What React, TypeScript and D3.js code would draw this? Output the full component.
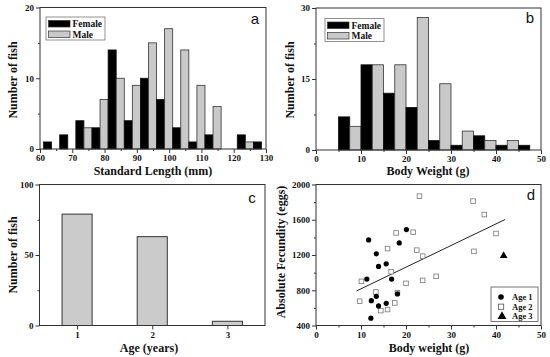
import React, { useEffect, useRef } from 'react';
import * as d3 from 'd3';

// (a) standard length, bin start in mm
const lengthBins = [60, 65, 70, 75, 80, 85, 90, 95, 100, 105, 110, 115, 120, 125];
const lengthFemale = [1, 2, 4, 3, 14, 4, 10, 7, 3, 1, 2, 0, 2, 1];
const lengthMale = [0, 0, 3, 7, 10, 9, 15, 17, 14, 9, 6, 0, 1, 0];

// (b) body weight, bin start in g
const weightBins = [5, 10, 15, 20, 25, 30, 35, 40, 45];
const weightFemale = [7, 18, 12, 9, 2, 1, 3, 1, 1];
const weightMale = [5, 18, 18, 28, 14, 4, 2, 2, 0];

// (c) age classes
const ageClasses = [1, 2, 3];
const ageCounts = [79, 63, 3];

// (d) body weight (g) vs absolute fecundity (eggs)
const age1Fish: [number, number][] = [
  [11.7, 1371], [20.1, 1488], [18.5, 1337], [13.4, 1213], [13.9, 1070], [15.6, 1100], [11.3, 927],
  [16.8, 927], [13.4, 731], [12.3, 682], [13.9, 622], [15.6, 652], [18.1, 758], [12.2, 483],
];
const age2Fish: [number, number][] = [
  [23.0, 1868], [17.8, 1450], [21.6, 1458], [15.9, 1273], [22.4, 1255], [23.7, 1187], [16.7, 1010],
  [10.1, 901], [20.0, 878], [23.7, 912], [13.3, 780], [18.1, 773], [9.7, 675], [17.5, 656],
  [14.4, 569], [15.9, 581], [34.9, 1812], [37.4, 1659], [40.0, 1444], [35.1, 1241], [26.7, 958],
];
const age3Fish: [number, number][] = [[41.7, 1191]];
const fitLine: [number, number][] = [[9, 792], [42, 1602]];

const serif = '"Liberation Serif", "Times New Roman", serif';
const sans = '"Liberation Sans", Arial, sans-serif';
const ink = '#333';
const maleFill = '#c9c9c9';

type Sel = d3.Selection<SVGGElement, unknown, null, undefined>;

function drawAxes(
  g: Sel,
  x: d3.ScaleLinear<number, number>,
  y: d3.ScaleLinear<number, number>,
  xMajor: number[], xMinor: number[], yMajor: number[], yMinor: number[]
) {
  const [x0, x1] = x.range();
  const [y1, y0] = y.range();
  const fmt = (d: d3.NumberValue) => String(+d);

  g.append('rect')
    .attr('x', x0).attr('y', y0)
    .attr('width', x1 - x0).attr('height', y1 - y0)
    .attr('fill', 'none').attr('stroke', ink).attr('stroke-width', 1);

  const bottom = g.append('g').attr('transform', `translate(0,${y1})`);
  bottom.append('g').call(d3.axisBottom(x).tickValues(xMinor).tickSize(2).tickFormat(() => ''));
  bottom.append('g').call(d3.axisBottom(x).tickValues(xMajor).tickSize(4).tickSizeOuter(0).tickPadding(2).tickFormat(fmt));

  const left = g.append('g').attr('transform', `translate(${x0},0)`);
  left.append('g').call(d3.axisLeft(y).tickValues(yMinor).tickSize(2).tickFormat(() => ''));
  left.append('g').call(d3.axisLeft(y).tickValues(yMajor).tickSize(4).tickSizeOuter(0).tickPadding(2).tickFormat(fmt));

  g.selectAll('.domain').remove();
  g.selectAll('.tick line').attr('stroke', ink);
  g.selectAll('.tick text')
    .attr('font-family', serif).attr('font-weight', 'bold').attr('font-size', 9).attr('fill', '#111');
}

function title(g: Sel, x: number, y: number, text: string, rotate = false) {
  const t = g.append('text')
    .attr('text-anchor', 'middle')
    .attr('font-family', serif).attr('font-weight', 'bold').attr('font-size', 12)
    .attr('fill', '#111')
    .text(text);
  if (rotate) t.attr('transform', `translate(${x},${y}) rotate(-90)`);
  else t.attr('x', x).attr('y', y);
}

function letter(g: Sel, x: number, y: number, text: string) {
  g.append('text').attr('x', x).attr('y', y)
    .attr('text-anchor', 'middle')
    .attr('font-family', sans).attr('font-size', 15).attr('fill', '#111')
    .text(text);
}

function sexLegend(g: Sel, x: number, y: number) {
  g.append('rect').attr('x', x).attr('y', y).attr('width', 59).attr('height', 23)
    .attr('fill', '#fff').attr('stroke', '#777').attr('stroke-width', 0.8);
  const rows = [{ label: 'Female', fill: '#000' }, { label: 'Male', fill: maleFill }];
  rows.forEach((r, i) => {
    g.append('rect').attr('x', x + 2.5).attr('y', y + 3.5 + i * 10.5).attr('width', 21.5).attr('height', 6.5)
      .attr('fill', r.fill).attr('stroke', ink).attr('stroke-width', 0.7);
    g.append('text').attr('x', x + 26.5).attr('y', y + 10 + i * 10.5)
      .attr('font-family', serif).attr('font-weight', 'bold').attr('font-size', 9.5).attr('fill', '#111')
      .text(r.label);
  });
}

const App: React.FC = () => {
  const svgRef = useRef<SVGSVGElement | null>(null);

  useEffect(() => {
    if (!svgRef.current) return;
    const svg = d3.select(svgRef.current);
    svg.selectAll('*').remove();
    const root = svg.append('g') as Sel;

    // ---- (a) standard length histogram
    {
      const g = root.append('g') as Sel;
      const x = d3.scaleLinear().domain([60, 130]).range([40, 266]);
      const y = d3.scaleLinear().domain([0, 20]).range([149, 7.5]);
      const barW = 2.5;
      lengthBins.forEach((b, i) => {
        if (lengthFemale[i] > 0) {
          g.append('rect').attr('x', x(b + 1.1)).attr('y', y(lengthFemale[i]))
            .attr('width', x(b + 1.1 + barW) - x(b + 1.1)).attr('height', y(0) - y(lengthFemale[i]))
            .attr('fill', '#000').attr('stroke', '#111').attr('stroke-width', 0.8);
        }
        if (lengthMale[i] > 0) {
          g.append('rect').attr('x', x(b + 1.1 + barW)).attr('y', y(lengthMale[i]))
            .attr('width', x(b + 1.1 + 2 * barW) - x(b + 1.1 + barW)).attr('height', y(0) - y(lengthMale[i]))
            .attr('fill', maleFill).attr('stroke', ink).attr('stroke-width', 0.8);
        }
      });
      drawAxes(g, x, y,
        d3.range(60, 131, 10), d3.range(65, 130, 10),
        [0, 10, 20], [5, 15]);
      sexLegend(g, 46, 17);
      letter(g, 255, 24, 'a');
      title(g, 153, 175, 'Standard Length (mm)');
      title(g, 17, 80, 'Number of fish', true);
    }

    // ---- (b) body weight histogram
    {
      const g = root.append('g') as Sel;
      const x = d3.scaleLinear().domain([0, 50]).range([316, 541]);
      const y = d3.scaleLinear().domain([0, 30]).range([150, 8]);
      const barW = 2.5;
      weightBins.forEach((b, i) => {
        if (weightFemale[i] > 0) {
          g.append('rect').attr('x', x(b)).attr('y', y(weightFemale[i]))
            .attr('width', x(b + barW) - x(b)).attr('height', y(0) - y(weightFemale[i]))
            .attr('fill', '#000').attr('stroke', '#111').attr('stroke-width', 0.8);
        }
        if (weightMale[i] > 0) {
          g.append('rect').attr('x', x(b + barW)).attr('y', y(weightMale[i]))
            .attr('width', x(b + 2 * barW) - x(b + barW)).attr('height', y(0) - y(weightMale[i]))
            .attr('fill', maleFill).attr('stroke', ink).attr('stroke-width', 0.8);
        }
      });
      drawAxes(g, x, y,
        d3.range(0, 51, 10), d3.range(5, 50, 10),
        [0, 15, 30], [7.5, 22.5]);
      sexLegend(g, 325, 18.5);
      letter(g, 530, 23, 'b');
      title(g, 428, 175, 'Body Weight (g)');
      title(g, 294, 80, 'Number of fish', true);
    }

    // ---- (c) age classes
    {
      const g = root.append('g') as Sel;
      const x = d3.scaleLinear().domain([0.5, 3.5]).range([39.5, 265]);
      const y = d3.scaleLinear().domain([0, 100]).range([325.5, 184.5]);
      const halfW = 0.2;
      ageClasses.forEach((a, i) => {
        g.append('rect').attr('x', x(a - halfW)).attr('y', y(ageCounts[i]))
          .attr('width', x(a + halfW) - x(a - halfW)).attr('height', y(0) - y(ageCounts[i]))
          .attr('fill', '#cbcbcb').attr('stroke', ink).attr('stroke-width', 1);
      });
      drawAxes(g, x, y, ageClasses, [], [0, 50, 100], [25, 75]);
      letter(g, 252, 203, 'c');
      title(g, 149, 352, 'Age (years)');
      title(g, 17, 255, 'Number of fish', true);
    }

    // ---- (d) fecundity scatter
    {
      const g = root.append('g') as Sel;
      const x = d3.scaleLinear().domain([0, 50]).range([316, 541]);
      const y = d3.scaleLinear().domain([400, 2000]).range([325.5, 184.5]);
      drawAxes(g, x, y,
        d3.range(0, 51, 10), d3.range(5, 50, 10),
        d3.range(400, 2001, 400), d3.range(600, 2000, 400));

      g.append('path')
        .attr('d', d3.line<[number, number]>().x(d => x(d[0])).y(d => y(d[1]))(fitLine) ?? '')
        .attr('fill', 'none').attr('stroke', '#222').attr('stroke-width', 1);

      g.selectAll('.age2').data(age2Fish).enter().append('rect')
        .attr('x', d => x(d[0]) - 2.3).attr('y', d => y(d[1]) - 2.3)
        .attr('width', 4.6).attr('height', 4.6)
        .attr('fill', '#fff').attr('stroke', '#777').attr('stroke-width', 0.8);
      g.selectAll('.age1').data(age1Fish).enter().append('circle')
        .attr('cx', d => x(d[0])).attr('cy', d => y(d[1])).attr('r', 2.6)
        .attr('fill', '#000');
      const tri = d3.symbol().type(d3.symbolTriangle).size(26)();
      g.selectAll('.age3').data(age3Fish).enter().append('path')
        .attr('d', tri ?? '')
        .attr('transform', d => `translate(${x(d[0])},${y(d[1])})`)
        .attr('fill', '#000');

      // legend
      const lx = 491, ly = 287;
      g.append('rect').attr('x', lx).attr('y', ly).attr('width', 47).attr('height', 34.5)
        .attr('fill', '#fff').attr('stroke', '#555').attr('stroke-width', 0.8);
      const labels = ['Age 1', 'Age 2', 'Age 3'];
      labels.forEach((lab, i) => {
        const cy = ly + 10 + i * 9.7;
        if (i === 0) g.append('circle').attr('cx', lx + 10).attr('cy', cy).attr('r', 2.8).attr('fill', '#000');
        if (i === 1) g.append('rect').attr('x', lx + 7.5).attr('y', cy - 2.6).attr('width', 5.2).attr('height', 5.2)
          .attr('fill', '#fff').attr('stroke', '#555').attr('stroke-width', 0.8);
        if (i === 2) g.append('path').attr('d', d3.symbol().type(d3.symbolTriangle).size(34)() ?? '')
          .attr('transform', `translate(${lx + 11},${cy})`).attr('fill', '#000');
        g.append('text').attr('x', lx + 21).attr('y', cy + 3)
          .attr('font-family', serif).attr('font-weight', 'bold').attr('font-size', 8.5).attr('fill', '#111')
          .text(lab);
      });

      letter(g, 531, 200, 'd');
      title(g, 429, 352, 'Body weight (g)');
      title(g, 285, 252, 'Absolute Fecundity (eggs)', true);
    }
  }, []);

  return (
    <svg
      ref={svgRef}
      width={550}
      height={357}
      style={{ position: 'absolute', left: 0, top: 0, background: '#fff' }}
    />
  );
};

export default App;
